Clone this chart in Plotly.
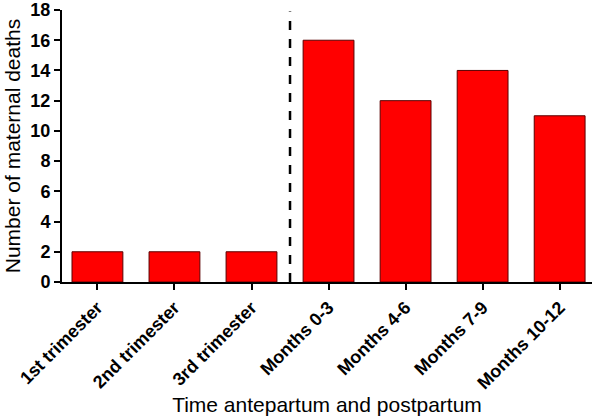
import plotly.graph_objects as go

categories = ["1st trimester", "2nd trimester", "3rd trimester",
              "Months 0-3", "Months 4-6", "Months 7-9", "Months 10-12"]
deaths = [2, 2, 2, 16, 12, 14, 11]
y_ticks = [0, 2, 4, 6, 8, 10, 12, 14, 16, 18]

fig = go.Figure()
fig.add_trace(go.Bar(
    x=list(range(len(categories))), y=deaths, width=0.66,
    marker=dict(color="#ff0000", line=dict(color="#5a0000", width=1)),
))
fig.add_shape(type="line", xref="x", yref="y", x0=2.5, x1=2.5, y0=0, y1=17.9,
              line=dict(color="black", width=2.5, dash="dash"))

fig.update_layout(
    width=600, height=419,
    margin=dict(l=62, r=8, t=10, b=137),
    plot_bgcolor="white", paper_bgcolor="white",
    showlegend=False,
    font=dict(family="Arial, Liberation Sans", color="black"),
)
fig.update_xaxes(
    range=[-0.46, 6.42], automargin=False,
    tickmode="array", tickvals=list(range(len(categories))),
    ticktext=[f"<b>{c}</b>" for c in categories],
    tickangle=-45, tickfont=dict(size=18),
    ticks="outside", ticklen=6, tickwidth=2, tickcolor="black",
    showline=True, linecolor="black", linewidth=2,
    showgrid=False, zeroline=False,
    title=dict(text="Time antepartum and postpartum", font=dict(size=21), standoff=4),
)
fig.update_yaxes(
    range=[0, 18], automargin=False, tickmode="array", tickvals=y_ticks,
    ticktext=[f"<b>{v}</b>" for v in y_ticks],
    tickfont=dict(size=18), ticklabeloverflow="allow",
    ticks="outside", ticklen=6, tickwidth=2, tickcolor="black",
    showline=True, linecolor="black", linewidth=2,
    showgrid=False, zeroline=False,
    title=dict(text="Number of maternal deaths", font=dict(size=21), standoff=4),
)
fig.write_html("out.html", config={"displayModeBar": False},
               post_script="document.body.style.margin='0';")
